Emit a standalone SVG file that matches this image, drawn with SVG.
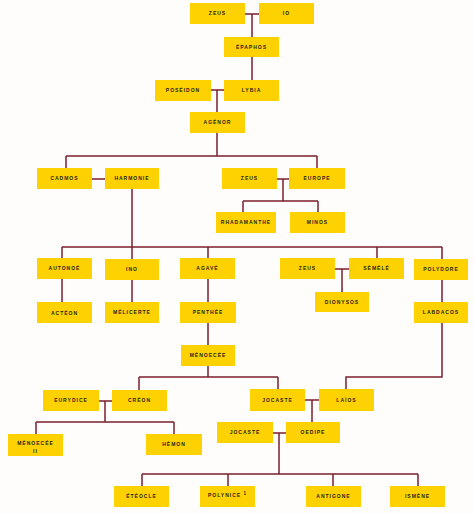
<svg xmlns="http://www.w3.org/2000/svg" width="474" height="514" viewBox="0 0 474 514">
<style>
.n rect{fill:#fed200}
.n text{font-family:"Liberation Sans",Arial,sans-serif;font-weight:bold;font-size:5px;letter-spacing:1px;fill:#2b1d1d;text-anchor:middle}
#links path{fill:none;stroke:#7b1f2e;stroke-width:1.5}
</style>
<rect width="474" height="514" fill="#fefdfb"/>
<g id="links">
<path d="M245 14H259M252 14V37M252 57V80M211 90H224M217 90V112M217 133V156M66 156H317M66 156V168M317 156V168M92 179H105M132 189V259M277 179H289M283 179V201M243 201H318M243 201V212M318 201V212"/>
<path d="M62 247H442M62 247V258M208 247V258M377 247V258M442 247V259M335 269H349M342 269V292M62 279V302M132 280V302M208 279V302M442 280V302M208 323V345M208 366V377M139 377H278M139 377V390M278 377V389M442 323V377H346V389"/>
<path d="M99 401H112M105 401V422M36 422H174M36 422V434M174 422V434M305 400H319M312 400V422M273 433H286M279 433V474M142 474H418M142 474V486M228 474V486M333 474V486M418 474V486"/>
</g>
<g id="zeus1" class="n"><rect x="190" y="3" width="55" height="21"/><text x="217.5" y="15.3">ZEUS</text></g>
<g id="io" class="n"><rect x="259" y="3" width="55" height="21"/><text x="286.5" y="15.3">IO</text></g>
<g id="epaphos" class="n"><rect x="224" y="37" width="55" height="20"/><text x="251.5" y="48.8">ÉPAPHOS</text></g>
<g id="poseidon" class="n"><rect x="155" y="80" width="56" height="21"/><text x="183" y="92.3">POSÉIDON</text></g>
<g id="lybia" class="n"><rect x="224" y="80" width="55" height="21"/><text x="251.5" y="92.3">LYBIA</text></g>
<g id="agenor" class="n"><rect x="190" y="112" width="55" height="21"/><text x="217.5" y="124.3">AGÉNOR</text></g>
<g id="cadmos" class="n"><rect x="37" y="168" width="55" height="21"/><text x="64.5" y="180.3">CADMOS</text></g>
<g id="harmonie" class="n"><rect x="105" y="168" width="54" height="21"/><text x="132" y="180.3">HARMONIE</text></g>
<g id="zeus2" class="n"><rect x="222" y="168" width="55" height="21"/><text x="249.5" y="180.3">ZEUS</text></g>
<g id="europe" class="n"><rect x="289" y="168" width="56" height="21"/><text x="317" y="180.3">EUROPE</text></g>
<g id="rhadamanthe" class="n"><rect x="216" y="212" width="60" height="21"/><text x="246" y="224.3">RHADAMANTHE</text></g>
<g id="minos" class="n"><rect x="290" y="212" width="55" height="21"/><text x="317.5" y="224.3">MINOS</text></g>
<g id="autonoe" class="n"><rect x="37" y="258" width="55" height="21"/><text x="64.5" y="270.3">AUTONOÉ</text></g>
<g id="ino" class="n"><rect x="105" y="259" width="54" height="21"/><text x="132" y="271.3">INO</text></g>
<g id="agave" class="n"><rect x="180" y="258" width="55" height="21"/><text x="207.5" y="270.3">AGAVÉ</text></g>
<g id="zeus3" class="n"><rect x="280" y="258" width="55" height="21"/><text x="307.5" y="270.3">ZEUS</text></g>
<g id="semele" class="n"><rect x="349" y="258" width="55" height="21"/><text x="376.5" y="270.3">SÉMÉLÉ</text></g>
<g id="polydore" class="n"><rect x="414" y="259" width="54" height="21"/><text x="441" y="271.3">POLYDORE</text></g>
<g id="dionysos" class="n"><rect x="315" y="292" width="54" height="20"/><text x="342" y="303.8">DIONYSOS</text></g>
<g id="acteon" class="n"><rect x="37" y="302" width="55" height="21"/><text x="64.5" y="315.3">ACTÉON</text></g>
<g id="melicerte" class="n"><rect x="105" y="302" width="54" height="21"/><text x="132" y="314.3">MÉLICERTE</text></g>
<g id="penthee" class="n"><rect x="180" y="302" width="56" height="21"/><text x="208" y="314.3">PENTHÉE</text></g>
<g id="labdacos" class="n"><rect x="414" y="302" width="54" height="21"/><text x="441" y="314.3">LABDACOS</text></g>
<g id="menoecee" class="n"><rect x="181" y="345" width="54" height="21"/><text x="208" y="357.3">MÉNOECÉE</text></g>
<g id="eurydice" class="n"><rect x="43" y="390" width="56" height="21"/><text x="71" y="402.3">EURYDICE</text></g>
<g id="creon" class="n"><rect x="112" y="390" width="55" height="21"/><text x="139.5" y="402.3">CRÉON</text></g>
<g id="jocaste1" class="n"><rect x="250" y="389" width="55" height="22"/><text x="277.5" y="401.8">JOCASTE</text></g>
<g id="laios" class="n"><rect x="319" y="389" width="55" height="22"/><text x="346.5" y="401.8">LAÏOS</text></g>
<g id="menoecee2" class="n"><rect x="8" y="434" width="55" height="22"/><text x="35.5" y="444.5">MÉNOECÉE</text><text x="35.5" y="452.5">II</text></g>
<g id="hemon" class="n"><rect x="146" y="434" width="56" height="21"/><text x="174" y="446.3">HÉMON</text></g>
<g id="jocaste2" class="n"><rect x="217" y="422" width="56" height="21"/><text x="245" y="434.3">JOCASTE</text></g>
<g id="oedipe" class="n"><rect x="286" y="422" width="54" height="21"/><text x="313" y="434.3">OEDIPE</text></g>
<g id="eteocle" class="n"><rect x="114" y="486" width="55" height="21"/><text x="141.5" y="498.3">ÉTÉOCLE</text></g>
<g id="polynice" class="n"><rect x="200" y="486" width="55" height="21"/><text x="227.5" y="497.3">POLYNICE <tspan font-size="4.5px" dy="-2">1</tspan></text></g>
<g id="antigone" class="n"><rect x="306" y="486" width="55" height="21"/><text x="333.5" y="498.3">ANTIGONE</text></g>
<g id="ismene" class="n"><rect x="390" y="486" width="55" height="21"/><text x="417.5" y="498.3">ISMÈNE</text></g>
</svg>
